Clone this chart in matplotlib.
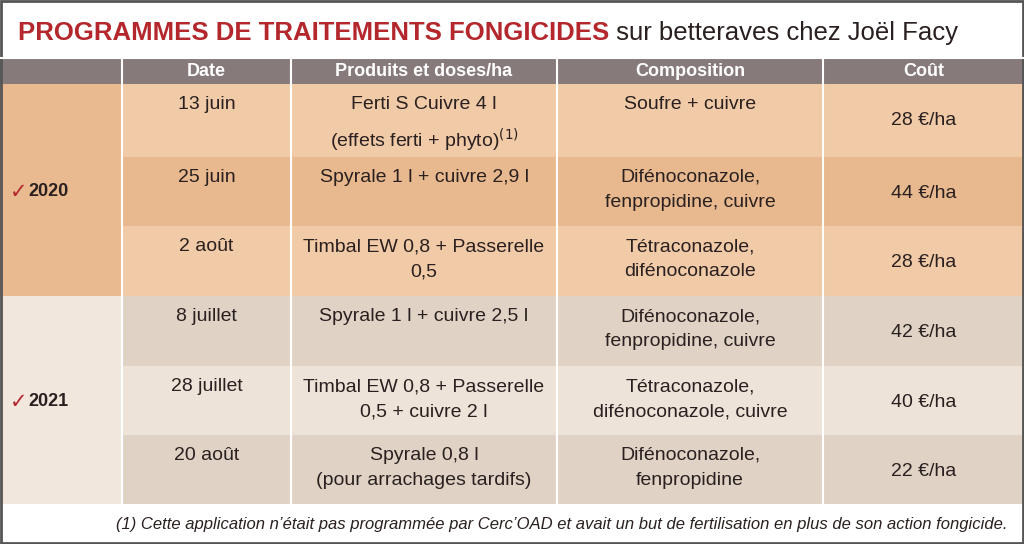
import matplotlib
matplotlib.use("Agg")
import matplotlib.pyplot as plt
from matplotlib.patches import Rectangle

plt.rcParams['font.family'] = ['Liberation Sans', 'DejaVu Sans']

title_bold = "PROGRAMMES DE TRAITEMENTS FONGICIDES"
title_rest = " sur betteraves chez Joël Facy"
headers = ["Date", "Produits et doses/ha", "Composition", "Coût"]
years = ["2020", "2021"]
dates = ["13 juin", "25 juin", "2 août", "8 juillet", "28 juillet", "20 août"]
products = ["Ferti S Cuivre 4 l\n(effets ferti + phyto)$^{(1)}$", "Spyrale 1 l + cuivre 2,9 l",
            "Timbal EW 0,8 + Passerelle\n0,5", "Spyrale 1 l + cuivre 2,5 l",
            "Timbal EW 0,8 + Passerelle\n0,5 + cuivre 2 l", "Spyrale 0,8 l\n(pour arrachages tardifs)"]
compositions = ["Soufre + cuivre", "Difénoconazole,\nfenpropidine, cuivre",
                "Tétraconazole,\ndifénoconazole", "Difénoconazole,\nfenpropidine, cuivre",
                "Tétraconazole,\ndifénoconazole, cuivre", "Difénoconazole,\nfenpropidine"]
costs = [28, 44, 28, 42, 40, 22]
footnote = "(1) Cette application n’était pas programmée par Cerc’OAD et avait un but de fertilisation en plus de son action fongicide."

W, H = 1024, 544
fig = plt.figure(figsize=(W/100, H/100), dpi=100)
ax = fig.add_axes([0, 0, 1, 1])
ax.set_xlim(0, W); ax.set_ylim(H, 0); ax.axis('off')

cols = [0, 122, 291, 557, 823, 1024]
rows = [84, 157, 226, 296, 366, 435, 504]
hdr = (58, 84)
row_colors = ['#f1caa7', '#e8b98f', '#f1caa7', '#e0d3c6', '#ede3d9', '#e0d3c6']
year_colors = ['#e9b98f', '#f1e7dd']
red = '#b3272d'; txt = '#2a2020'

ax.add_patch(Rectangle((0, 0), W, H, facecolor='white', edgecolor='none'))
ax.add_patch(Rectangle((0, hdr[0]), W, hdr[1]-hdr[0], facecolor='#877a7b', edgecolor='none'))
for i in range(2):
    ax.add_patch(Rectangle((0, rows[3*i]), cols[1], rows[3*i+3]-rows[3*i], facecolor=year_colors[i], edgecolor='none'))
for r in range(6):
    ax.add_patch(Rectangle((cols[1], rows[r]), W-cols[1], rows[r+1]-rows[r], facecolor=row_colors[r], edgecolor='none'))
for x in cols[1:-1]:
    ax.plot([x, x], [hdr[0], rows[-1]], color='white', lw=1.5)
ax.plot([0, W], [hdr[0], hdr[0]], color='white', lw=1.5)
ax.add_patch(Rectangle((1, 1), W-2, H-2, facecolor='none', edgecolor='#555', lw=2))

t = ax.text(18, 33, title_bold, color=red, fontsize=18.5, fontweight='bold', va='center', ha='left')
fig.canvas.draw()
bb = t.get_window_extent()
ax.text(bb.x1, 33, title_rest, color=txt, fontsize=18.5, va='center', ha='left')

for j, h in enumerate(headers):
    ax.text((cols[j+1]+cols[j+2])/2, 71, h, color='white', fontsize=13, fontweight='bold', ha='center', va='center')

for i, y in enumerate(years):
    yc = (rows[3*i]+rows[3*i+3])/2 + 2
    ax.text(10, yc, "✓", color=red, fontsize=15, ha='left', va='center', family=['DejaVu Sans'])
    ax.text(28, yc, y, color=txt, fontsize=13, fontweight='bold', ha='left', va='center')

for r in range(6):
    top = rows[r] + 12
    vals = [dates[r], products[r], compositions[r], f"{costs[r]} €/ha"]
    for j, v in enumerate(vals):
        xc = (cols[j+1]+cols[j+2])/2
        yy = top + (16 if j == 3 else 0)
        ax.text(xc, yy, v, color=txt, fontsize=14, ha='center', va='top', linespacing=1.65)

ax.text(1008, 524, footnote, color=txt, fontsize=12, style='italic', ha='right', va='center')

fig.savefig("out.png", dpi=100)
